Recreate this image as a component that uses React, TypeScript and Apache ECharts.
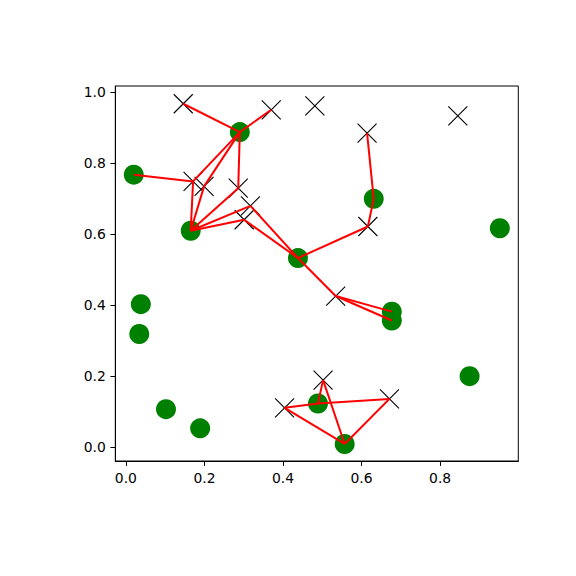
import React, { useEffect, useRef } from "react";
import * as echarts from "echarts";

const greenX = [0.290, 0.020, 0.165, 0.438, 0.631, 0.952, 0.038, 0.034, 0.102, 0.189, 0.677, 0.677, 0.875, 0.489, 0.557];
const greenY = [0.887, 0.767, 0.609, 0.532, 0.699, 0.616, 0.402, 0.318, 0.106, 0.052, 0.381, 0.356, 0.199, 0.122, 0.008];

const crossX = [0.146, 0.370, 0.481, 0.171, 0.199, 0.286, 0.317, 0.301, 0.845, 0.614, 0.616, 0.404, 0.534, 0.502, 0.671];
const crossY = [0.967, 0.950, 0.961, 0.748, 0.734, 0.729, 0.679, 0.640, 0.933, 0.884, 0.621, 0.110, 0.425, 0.188, 0.135];

// [green index, cross index]
const edges: [number, number][] = [
  [0, 0], [0, 1], [0, 3], [0, 4], [0, 5],
  [1, 3],
  [2, 3], [2, 4], [2, 5], [2, 6], [2, 7],
  [3, 6], [3, 7], [3, 10], [3, 12],
  [4, 9], [4, 10],
  [10, 12], [11, 12],
  [13, 11], [13, 14], [13, 13],
  [14, 11], [14, 13], [14, 14],
];

const tickValues = [0.0, 0.2, 0.4, 0.6, 0.8];
const yTickValues = [0.0, 0.2, 0.4, 0.6, 0.8, 1.0];

export default function App() {
  const ref = useRef<HTMLDivElement>(null);
  useEffect(() => {
    if (!ref.current) return;
    const chart = echarts.init(ref.current, null, { renderer: "svg" });
    const font = "DejaVu Sans";
    const axisCommon = {
      axisLine: { show: true, onZero: false, lineStyle: { color: "#000", width: 1 } },
      splitLine: { show: false },
    };
    chart.setOption({
      animation: false,
      backgroundColor: "#fff",
      grid: {
        left: 115.3,
        right: 57.7,
        top: 86,
        bottom: 115,
        show: true,
        borderColor: "#000",
        borderWidth: 1,
        containLabel: false,
        outerBoundsMode: "none",
      },
      xAxis: {
        type: "value",
        min: -0.027,
        max: 0.999,
        ...axisCommon,
        axisTick: { show: true, inside: false, length: 4.9, customValues: tickValues, lineStyle: { color: "#000" } },
        axisLabel: {
          show: true,
          customValues: tickValues,
          formatter: (v: number) => v.toFixed(1),
          color: "#000",
          fontFamily: font,
          fontSize: 13.9,
          margin: 9.5,
        },
      },
      yAxis: {
        type: "value",
        min: -0.040,
        max: 1.017,
        ...axisCommon,
        axisTick: { show: true, inside: false, length: 4.9, customValues: yTickValues, lineStyle: { color: "#000" } },
        axisLabel: {
          show: true,
          customValues: yTickValues,
          formatter: (v: number) => v.toFixed(1),
          color: "#000",
          fontFamily: font,
          fontSize: 13.9,
          margin: 9.5,
        },
      },
      series: [
        {
          type: "scatter",
          symbol: "circle",
          symbolSize: 20,
          itemStyle: { color: "#008000", opacity: 1 },
          data: greenX.map((x, i) => [x, greenY[i]]),
          z: 2,
        },
        {
          type: "scatter",
          symbol: "path://M0,0L10,10M10,0L0,10",
          symbolSize: 19,
          itemStyle: { color: "none", borderColor: "#000", borderWidth: 1.1, opacity: 1 },
          data: crossX.map((x, i) => [x, crossY[i]]),
          z: 3,
        },
        {
          type: "lines",
          coordinateSystem: "cartesian2d",
          lineStyle: { color: "#ff0000", width: 2, opacity: 1 },
          data: edges.map(([g, c]) => ({
            coords: [
              [crossX[c], crossY[c]],
              [greenX[g], greenY[g]],
            ],
          })),
          z: 4,
        },
      ],
    });
    return () => chart.dispose();
  }, []);
  return (
    <div
      ref={ref}
      style={{ position: "fixed", left: 0, top: 0, width: 576, height: 576 }}
    />
  );
}
